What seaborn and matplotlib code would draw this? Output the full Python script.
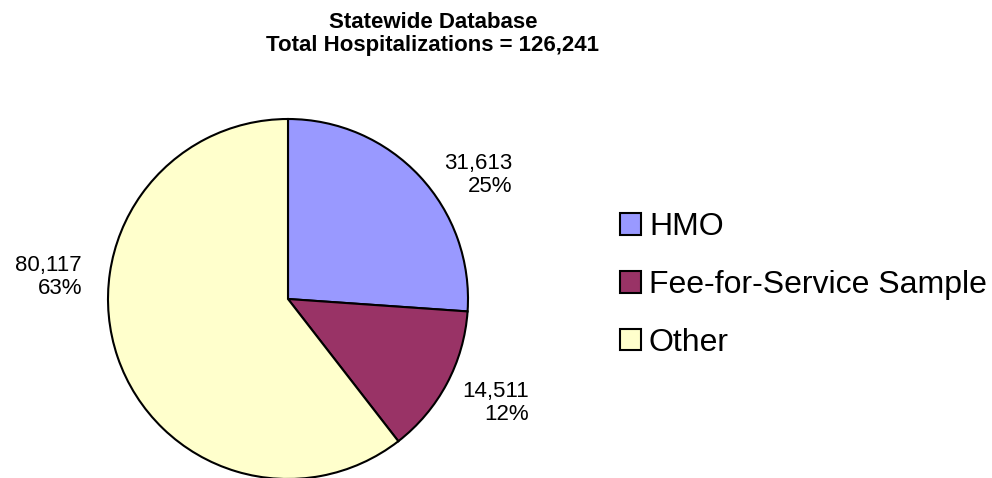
import matplotlib
matplotlib.use("Agg")
import matplotlib.pyplot as plt
import seaborn as sns

# Data
categories = ["HMO", "Fee-for-Service Sample", "Other"]
values = [31613, 14511, 80117]
percent_labels = ["25%", "12%", "63%"]
# slice sizes as drawn in the reference picture (percent of circle)
slice_shares = [26.1, 13.4, 60.5]
title_lines = ["Statewide Database", "Total Hospitalizations = 126,241"]

sns.set_theme(style="white")
plt.rcParams["font.family"] = ["Liberation Sans", "DejaVu Sans"]
plt.rcParams["text.color"] = "black"

colors = sns.color_palette(["#9999FF", "#993366", "#FFFFCC"])

W, H = 992, 478
fig = plt.figure(figsize=(W / 100, H / 100), dpi=100)
fig.patch.set_facecolor("white")

cx, cy, R = 288, 299, 180
ax = fig.add_axes([(cx - R) / W, (H - cy - R) / H, 2 * R / W, 2 * R / H])
wedges, _ = ax.pie(slice_shares, colors=colors, startangle=90, counterclock=False,
                   radius=1.0,
                   wedgeprops=dict(edgecolor="black", linewidth=1.5))
ax.set_xlim(-1, 1)
ax.set_ylim(-1, 1)
ax.set_aspect("equal")
ax.axis("off")

# data label positions (in radius units)
label_pos = [(1.244, 0.69), (1.339, -0.578), (-1.144, 0.122)]
for v, p, (x, y) in zip(values, percent_labels, label_pos):
    ax.text(x, y, f"{v:,}\n{p}", ha="right", va="center", multialignment="right",
            fontsize=16, color="black", linespacing=1.1, clip_on=False)

fig.text(433 / W, 1 - 34 / H, "\n".join(title_lines), ha="center", va="center",
         fontsize=16, fontweight="bold", linespacing=1.1, color="black")

fs = 23
fs_px = fs * 100 / 72
leg = fig.legend(wedges, categories, loc="center left",
                 bbox_to_anchor=(620 / W, 1 - 285 / H), frameon=False,
                 fontsize=fs, borderpad=0, borderaxespad=0,
                 handlelength=21 / fs_px, handleheight=21 / fs_px,
                 handletextpad=0.25, labelspacing=0.87)
for t in leg.get_texts():
    t.set_color("black")

fig.savefig("out.png", dpi=100, facecolor="white")
